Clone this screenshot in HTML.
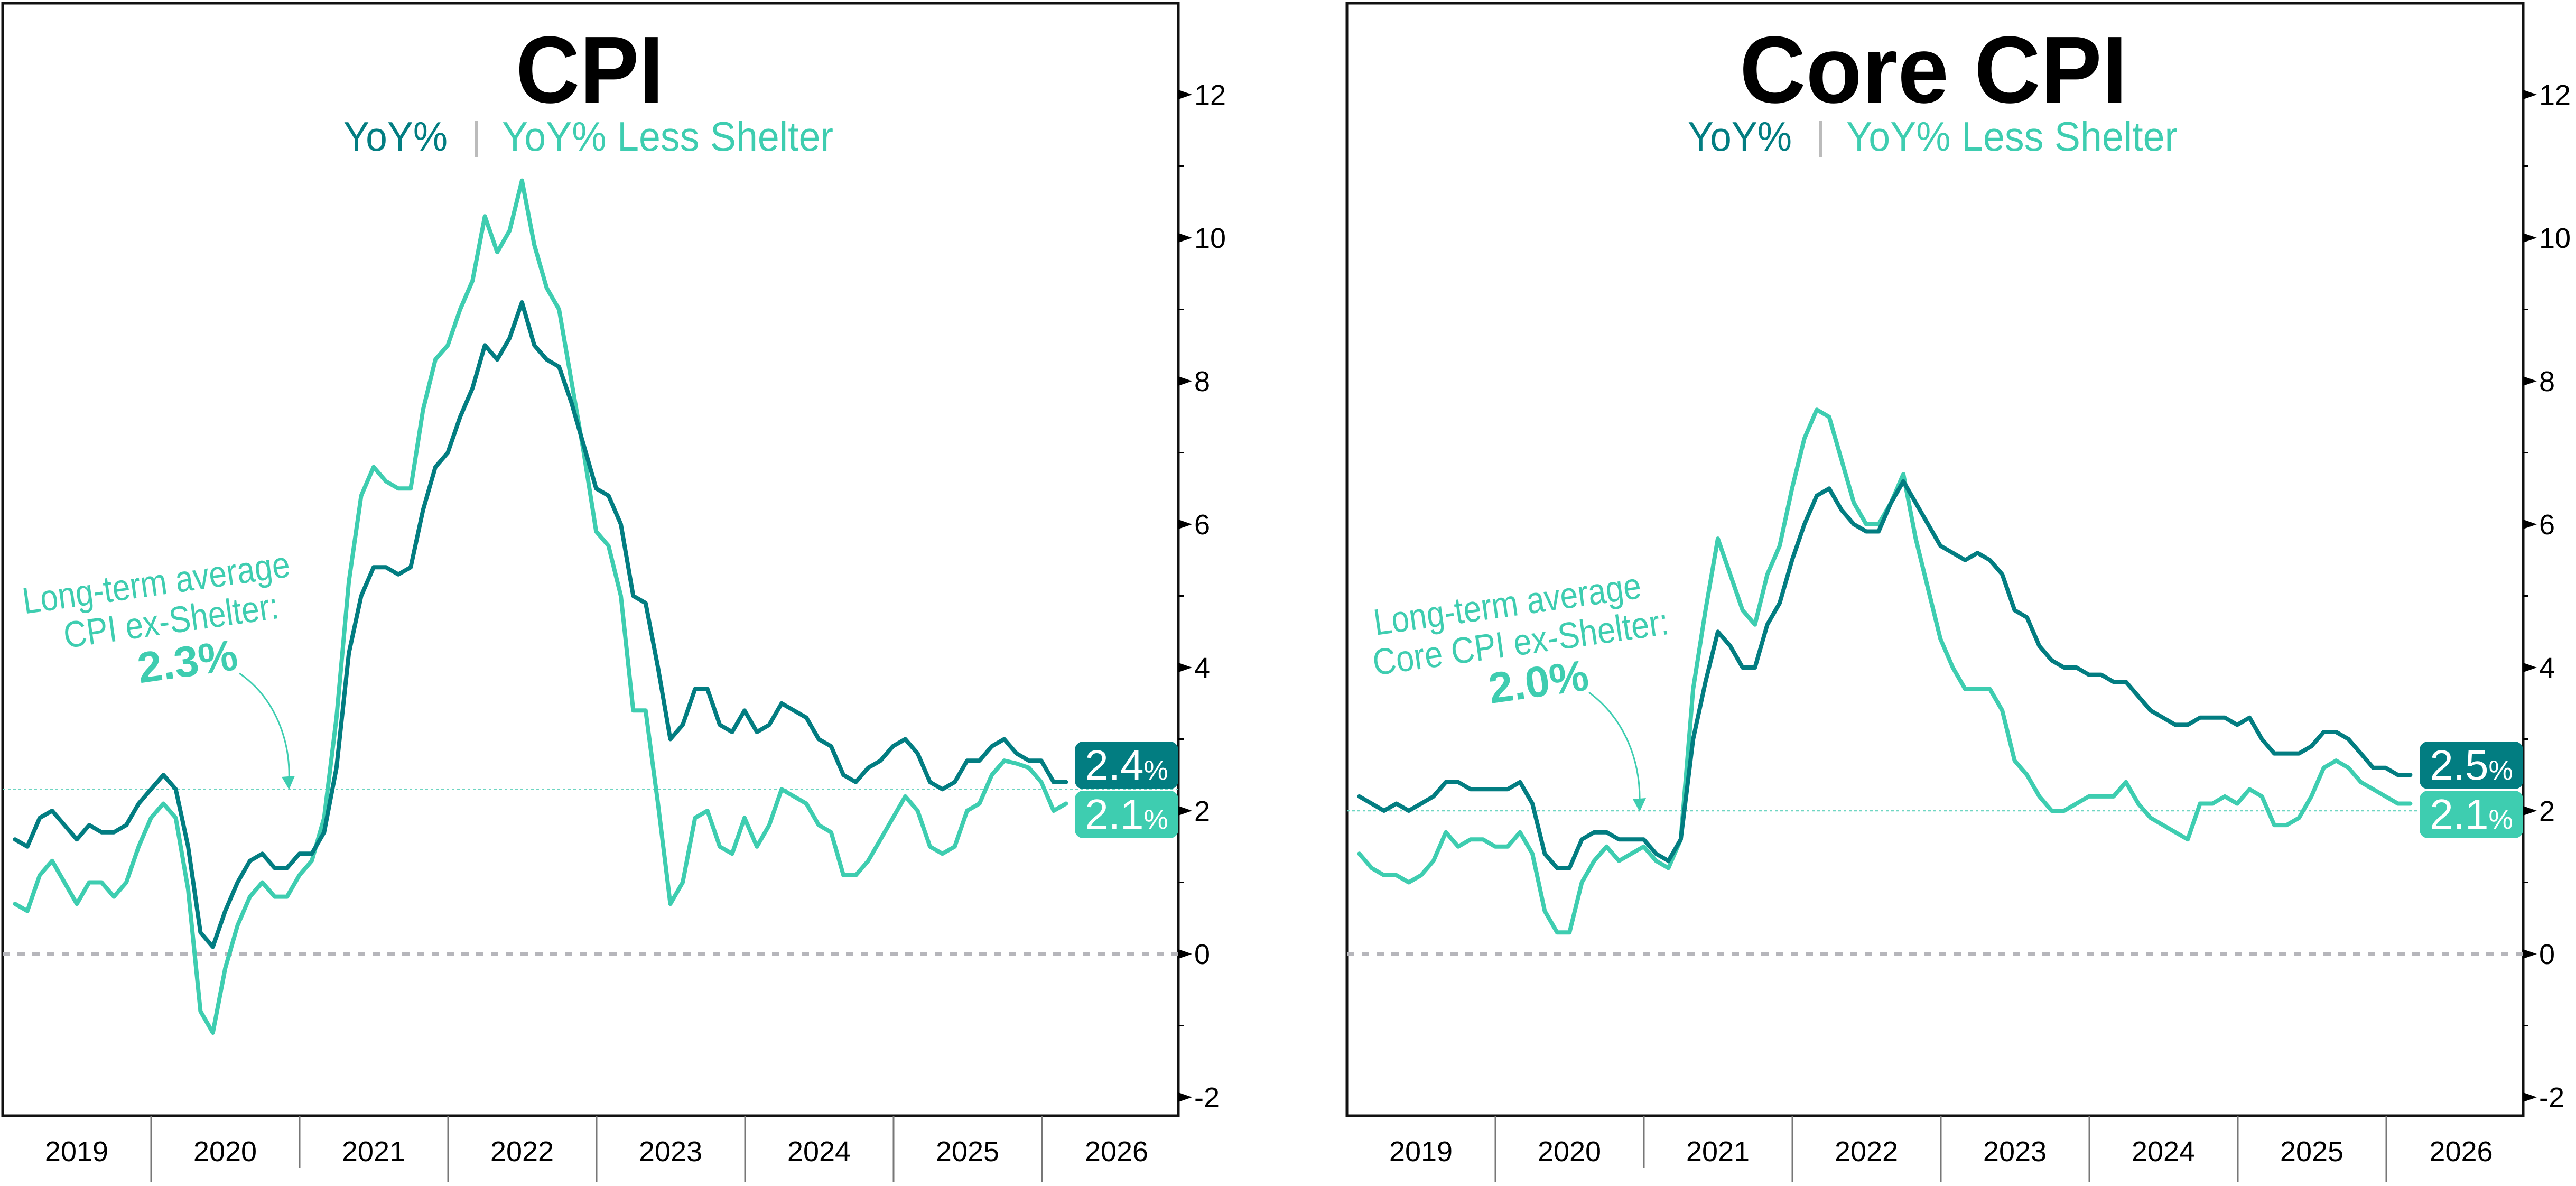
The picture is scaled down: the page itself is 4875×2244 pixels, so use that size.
<!DOCTYPE html>
<html><head><meta charset="utf-8"><style>
html,body{margin:0;padding:0;background:#fff;}
svg{display:block;}
text{font-family:"Liberation Sans",sans-serif;}
</style></head><body>
<svg id="chart" xmlns="http://www.w3.org/2000/svg" width="4875" height="2244" viewBox="0 0 4875 2244"></svg>
<script>
// ---- data (monthly, Jan 2019 .. Feb 2026) ----
const years = ["2019","2020","2021","2022","2023","2024","2025","2026"];
const yTicks = [-2,0,2,4,6,8,10,12];
const cpiYoY = [1.6,1.5,1.9,2.0,1.8,1.6,1.8,1.7,1.7,1.8,2.1,2.3,2.5,2.3,1.5,0.3,0.1,0.6,1.0,1.3,1.4,1.2,1.2,1.4,1.4,1.7,2.6,4.2,5.0,5.4,5.4,5.3,5.4,6.2,6.8,7.0,7.5,7.9,8.5,8.3,8.6,9.1,8.5,8.3,8.2,7.7,7.1,6.5,6.4,6.0,5.0,4.9,4.0,3.0,3.2,3.7,3.7,3.2,3.1,3.4,3.1,3.2,3.5,3.4,3.3,3.0,2.9,2.5,2.4,2.6,2.7,2.9,3.0,2.8,2.4,2.3,2.4,2.7,2.7,2.9,3.0,2.8,2.7,2.7,2.4,2.4];
const cpiExShelter = [0.7,0.6,1.1,1.3,1.0,0.7,1.0,1.0,0.8,1.0,1.5,1.9,2.1,1.9,0.9,-0.8,-1.1,-0.2,0.4,0.8,1.0,0.8,0.8,1.1,1.3,1.9,3.3,5.2,6.4,6.8,6.6,6.5,6.5,7.6,8.3,8.5,9.0,9.4,10.3,9.8,10.1,10.8,9.9,9.3,9.0,8.0,7.0,5.9,5.7,5.0,3.4,3.4,2.1,0.7,1.0,1.9,2.0,1.5,1.4,1.9,1.5,1.8,2.3,2.2,2.1,1.8,1.7,1.1,1.1,1.3,1.6,1.9,2.2,2.0,1.5,1.4,1.5,2.0,2.1,2.5,2.7,2.66,2.6,2.4,2.0,2.1];
const coreYoY = [2.2,2.1,2.0,2.1,2.0,2.1,2.2,2.4,2.4,2.3,2.3,2.3,2.3,2.4,2.1,1.4,1.2,1.2,1.6,1.7,1.7,1.6,1.6,1.6,1.4,1.3,1.6,3.0,3.8,4.5,4.3,4.0,4.0,4.6,4.9,5.5,6.0,6.4,6.5,6.2,6.0,5.9,5.9,6.3,6.6,6.3,6.0,5.7,5.6,5.5,5.6,5.5,5.3,4.8,4.7,4.3,4.1,4.0,4.0,3.9,3.9,3.8,3.8,3.6,3.4,3.3,3.2,3.2,3.3,3.3,3.3,3.2,3.3,3.0,2.8,2.8,2.8,2.9,3.1,3.1,3.0,2.8,2.6,2.6,2.5,2.5];
const coreExShelter = [1.4,1.2,1.1,1.1,1.0,1.1,1.3,1.7,1.5,1.6,1.6,1.5,1.5,1.7,1.4,0.6,0.3,0.3,1.0,1.3,1.5,1.3,1.4,1.5,1.3,1.2,1.6,3.7,4.8,5.8,5.3,4.8,4.6,5.3,5.7,6.5,7.2,7.6,7.5,6.9,6.3,6.0,6.0,6.3,6.7,5.8,5.1,4.4,4.0,3.7,3.7,3.7,3.4,2.7,2.5,2.2,2.0,2.0,2.1,2.2,2.2,2.2,2.4,2.1,1.9,1.8,1.7,1.6,2.1,2.1,2.2,2.1,2.3,2.2,1.8,1.8,1.9,2.2,2.6,2.7,2.6,2.4,2.3,2.2,2.1,2.1];
const avgLevels = [2.3, 2.0];

const NS="http://www.w3.org/2000/svg";
const svg=document.getElementById('chart');
const DARK="#027d81", LIGHT="#3ecdb0";
function mk(tag,attrs,parent){const e=document.createElementNS(NS,tag);for(const k in attrs)e.setAttribute(k,attrs[k]);(parent||svg).appendChild(e);return e;}

const plotTop=6, plotBottom=2111;
function yScale(v){return 1805-135.5*v;}

function panel(cfg){
  const g=mk('g',{});
  
  
  const L=cfg.left,R=cfg.right;
  const xScale=m=>L+23.4*(m+1);
  const fr=mk('rect',{x:L,y:plotTop,width:R-L,height:plotBottom-plotTop,fill:'none',stroke:'#111',"stroke-width":5},g);
  
  
  const z=mk('line',{x1:L,x2:R,y1:yScale(0),y2:yScale(0),stroke:'#b6b6bb',"stroke-width":7,"stroke-dasharray":"14 14"},g);
  
  
  const a=mk('line',{x1:L,x2:R,y1:yScale(cfg.avg),y2:yScale(cfg.avg),stroke:'#6fd6c2',"stroke-width":2.5,"stroke-dasharray":"5 5"},g);
  
  
  for(let v=-2;v<=12;v++){
    const y=yScale(v);
    if(v%2===0){
      const t=mk('path',{d:`M${R} ${y-9}L${R+26} ${y}L${R} ${y+9}Z`,fill:'#000'},g);
      
      
    } else {
      const t=mk('line',{x1:R,x2:R+10,y1:y,y2:y,stroke:'#000',"stroke-width":3},g);
      
      
    }
  }
  yTicks.forEach(v=>{
    const t=mk('text',{x:R+30,y:yScale(v)+19,"font-size":54,fill:'#000'},g);
    t.textContent=String(v);
    
    
  });
  years.forEach((yr,i)=>{
    const x0=L+281*i;
    if(i>0){
      const s=mk('line',{x1:x0,x2:x0,y1:plotBottom,y2:(i===2?2209:2237),stroke:'#777',"stroke-width":3},g);
      
      
    }
    const cx = i<7 ? x0+140 : (x0+R)/2+12;
    const t=mk('text',{x:cx,y:2197,"font-size":54,"text-anchor":"middle",fill:'#000'},g);
    t.textContent=yr;
    
    
  });
  const mkLine=(arr,color,name)=>{
    const d=arr.map((v,m)=>(m?'L':'M')+xScale(m).toFixed(1)+' '+yScale(v).toFixed(1)).join('');
    const p=mk('path',{d:d,fill:'none',stroke:color,"stroke-width":8,"stroke-linejoin":"round","stroke-linecap":"round"},g);
    
    
  };
  mkLine(cfg.light,LIGHT,'series-yoy-less-shelter');
  mkLine(cfg.dark,DARK,'series-yoy');
  const bx=R-196;
  const lab=(y,color,val,name)=>{
    const r=mk('rect',{x:bx,y:y,width:196,height:90,rx:16,fill:color},g);
    
    
    const t=mk('text',{x:bx+98,y:y+72,"font-size":80,"text-anchor":"middle",fill:'#fff'},g);
    
    
    const s1=document.createElementNS(NS,'tspan');s1.textContent=val;t.appendChild(s1);
    const s2=document.createElementNS(NS,'tspan');s2.setAttribute('font-size','52');s2.textContent='%';t.appendChild(s2);
  };
  lab(1403,DARK,cfg.dark[cfg.dark.length-1].toFixed(1),'latest-yoy-label');
  lab(1496,LIGHT,cfg.light[cfg.light.length-1].toFixed(1),'latest-less-shelter-label');
  const ti=mk('text',{x:cfg.tcx,y:194,"font-size":180,"font-weight":"bold","text-anchor":"middle",fill:'#000',textLength:cfg.tw,lengthAdjust:'spacingAndGlyphs'},g);
  ti.textContent=cfg.title;
  
  
  const s1=mk('text',{x:cfg.s1,y:285,"font-size":78,fill:DARK,textLength:197,lengthAdjust:'spacingAndGlyphs'},g);
  s1.textContent='YoY%';
  
  
  const bar=mk('rect',{x:cfg.s1+248,y:228,width:6,height:70,fill:'#bbb'},g);
  
  
  const s2=mk('text',{x:cfg.s1+300,y:285,"font-size":78,fill:LIGHT,textLength:627,lengthAdjust:'spacingAndGlyphs'},g);
  s2.textContent='YoY% Less Shelter';
  
  
  const ann=mk('g',{transform:`rotate(-8 ${cfg.ax} ${cfg.ay})`,fill:LIGHT},g);
  
  
  cfg.annLines.forEach((ln,i)=>{
    const t=mk('text',{x:cfg.ax+ln[1],y:cfg.ay+ln[2],"font-size":i===2?82:70,"font-weight":i===2?'bold':'normal',"text-anchor":"middle",textLength:ln[3],lengthAdjust:'spacingAndGlyphs'},ann);
    t.textContent=ln[0];
    
    
  });
  const ar=mk('path',{d:cfg.arrow,fill:'none',stroke:LIGHT,"stroke-width":3},g);
  
  
  const ah=mk('path',{d:cfg.head,fill:LIGHT},g);
  
  
}

panel({name:'cpi-panel',left:5,right:2230,dark:cpiYoY,light:cpiExShelter,avg:avgLevels[0],
  title:'CPI',tcx:1116,tw:280,s1:650,
  ax:310,ay:1170,annLines:[['Long-term average',-5,-45,510],['CPI ex-Shelter:',13,30,410],['2.3%',33,115,190]],
  arrow:'M453 1274 C520 1320 550 1400 547 1478',head:'M533 1470 L547 1494 L558 1468 Z'});
panel({name:'core-cpi-panel',left:2549,right:4775,dark:coreYoY,light:coreExShelter,avg:avgLevels[1],
  title:'Core CPI',tcx:3659,tw:734,s1:3194,
  ax:2870,ay:1210,annLines:[['Long-term average',-8,-45,510],['Core CPI ex-Shelter:',7,30,565],['2.0%',30,113,190]],
  arrow:'M3007 1310 C3075 1360 3105 1440 3103 1520',head:'M3090 1512 L3103 1536 L3115 1510 Z'});
</script>
</body></html>
